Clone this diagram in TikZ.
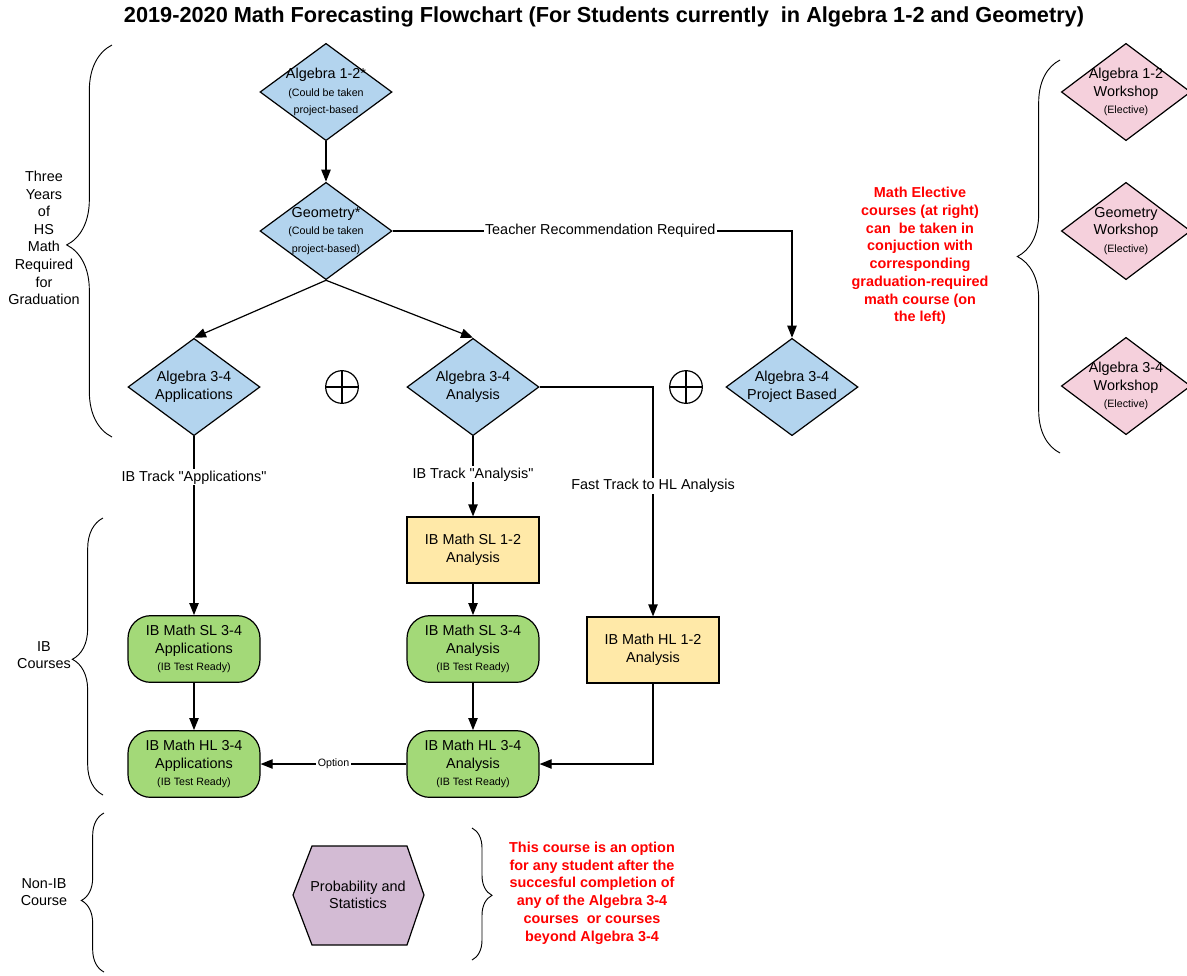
\documentclass[tikz,border=0pt]{standalone}
\usepackage{fontspec}
\setmainfont{Liberation Sans}[Ligatures=TeXOff]
\usetikzlibrary{shapes.geometric,arrows.meta,decorations.pathreplacing}

\definecolor{diablue}{HTML}{B3D4EE}
\definecolor{diapink}{HTML}{F5D0DC}
\definecolor{boxyellow}{HTML}{FFE9A8}
\definecolor{boxgreen}{HTML}{A3D978}
\definecolor{hexpurple}{HTML}{D3BBD4}

\newcommand{\bigtxt}{\fontsize{10.8}{13.2}\selectfont}
\newcommand{\smalltxt}{\fontsize{8}{9.5}\selectfont}

\tikzset{
  req/.style={diamond, draw, fill=diablue, minimum width=99pt, minimum height=73pt, inner sep=0pt},
  elec/.style={diamond, draw, fill=diapink, minimum width=97pt, minimum height=73pt, inner sep=0pt},
  ibbox/.style={rectangle, draw, fill=boxyellow, minimum width=99pt, minimum height=49.5pt, align=center},
  ibready/.style={rectangle, rounded corners=17pt, draw, fill=boxgreen, minimum width=99pt, minimum height=50pt, align=center},
  orsign/.style={circle, draw, minimum size=24.5pt, inner sep=0pt},
  arr/.style={-{Triangle[length=9pt,width=7pt]}},
  lbl/.style={fill=white, inner sep=1pt},
  bracket/.style 2 args={decorate, line width=0.7pt, decoration={brace, amplitude=#1, aspect=#2}},
  note/.style={text=red, font=\bfseries\fontsize{10.8}{13.3}\selectfont, align=center},
  every label/.style={align=center, font=\bigtxt},
}

\begin{document}
\begin{tikzpicture}[x=0.75pt, y=-0.75pt, font=\bigtxt, line width=0.9pt]
\useasboundingbox (0,0) rectangle (1187,975);
\node[font=\bfseries\fontsize{16.3}{19}\selectfont] (title) at (604,17) {2019-2020 Math Forecasting Flowchart (For Students currently\ \ in Algebra 1-2 and Geometry)};

%required courses
\node[req, label={center:Algebra 1-2*\\{\smalltxt (Could be taken}\\{\smalltxt project-based}}] (alg12) at (326,92) {};
\node[req, label={center:Geometry*\\{\smalltxt (Could be taken}\\{\smalltxt project-based)}}] (geo) at (326,231) {};
\node[req, label={center:Algebra 3-4\\Applications}] (app) at (194,387) {};
\node[req, label={center:Algebra 3-4\\Analysis}] (ana) at (473,387) {};
\node[req, label={center:Algebra 3-4\\Project Based}] (proj) at (792,387) {};
\node[orsign] (or1) at (342,387) {};
\node[orsign] (or2) at (686,387) {};
\draw (or1.north) -- (or1.south) (or1.west) -- (or1.east);
\draw (or2.north) -- (or2.south) (or2.west) -- (or2.east);

%electives
\node[elec, label={center:Algebra 1-2\\Workshop\\{\smalltxt (Elective)}}] (ws1) at (1126,92) {};
\node[elec, label={center:Geometry\\Workshop\\{\smalltxt (Elective)}}] (ws2) at (1126,231) {};
\node[elec, label={center:Algebra 3-4\\Workshop\\{\smalltxt (Elective)}}] (ws3) at (1126,386) {};
\node[note] (elecnote) at (920,256) {Math Elective\\courses (at right)\\can\ \ be taken in\\conjuction with\\corresponding\\graduation-required\\math course (on\\the left)};
\draw[bracket={32pt}{0.5}] (1060,453) -- (1060,60);

%IB courses
\node[ibbox] (sl12) at (473,550) {IB Math SL 1-2\\Analysis};
\node[ibbox] (hl12) at (653,650) {IB Math HL 1-2\\Analysis};
\node[ibready] (slapp) at (194,649) {IB Math SL 3-4\\Applications\\{\smalltxt (IB Test Ready)}};
\node[ibready] (slana) at (473,649) {IB Math SL 3-4\\Analysis\\{\smalltxt (IB Test Ready)}};
\node[ibready] (hlapp) at (194,764) {IB Math HL 3-4\\Applications\\{\smalltxt (IB Test Ready)}};
\node[ibready] (hlana) at (473,764) {IB Math HL 3-4\\Analysis\\{\smalltxt (IB Test Ready)}};

%connectors
\draw[arr] (alg12.south) -- (geo.north);
\draw[arr] (geo.south) -- (app.north);
\draw[arr] (geo.south) -- (ana.north);
\draw[arr] (geo.east) -| node[lbl, pos=0.26] {Teacher Recommendation Required} (proj.north);
\draw[arr] (app.south) -- node[lbl, pos=0.23] {IB Track "Applications"} (slapp.north);
\draw[arr] (ana.south) -- node[lbl, pos=0.475] {IB Track "Analysis"} (sl12.north);
\draw[arr] (ana.east) -| node[lbl, pos=0.715] {Fast Track to HL Analysis} (hl12.north);
\draw[arr] (sl12.south) -- (slana.north);
\draw[arr] (slapp.south) -- (hlapp.north);
\draw[arr] (slana.south) -- (hlana.north);
\draw[arr] (hl12.south) |- (hlana.east);
\draw[arr] (hlana.west) -- node[lbl, font=\smalltxt] {Option} (hlapp.east);

%non-IB
\draw[fill=hexpurple] (293,895) -- (312,846) -- (407,846) -- (424,895) -- (407,945) -- (312,945) -- cycle;
\node[align=center] (prob) at (358,895) {Probability and\\Statistics};
\draw[bracket={15pt}{0.51}] (472,828) -- (472,960);
\node[note] (probnote) at (592,893) {This course is an option\\for any student after the\\succesful completion of\\any of the Algebra 3-4\\courses\ \ or courses\\beyond Algebra 3-4};

%left side
\draw[bracket={34pt}{0.49}] (112,437) -- (112,45);
\draw[bracket={23pt}{0.49}] (103,795) -- (103,518);
\draw[bracket={17pt}{0.45}] (104,972) -- (104,813);
\node[align=center] (grad) at (44,238) {Three\\Years\\of\\HS\\Math\\Required\\for\\Graduation};
\node[align=center] (ib) at (44,655) {IB\\Courses};
\node[align=center] (nonib) at (44,892) {Non-IB\\Course};
\end{tikzpicture}
\end{document}
